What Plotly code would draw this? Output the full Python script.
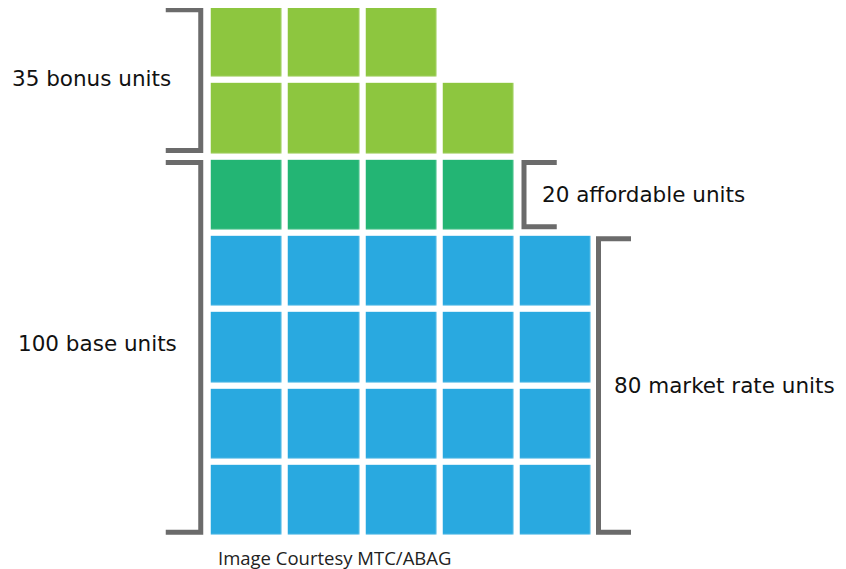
import plotly.graph_objects as go

# ---- data ----
categories = ["bonus", "affordable", "market rate"]
category_units = [35, 20, 80]
base_units = 100
bonus_rows = [3, 4]          # squares per row, top to bottom
affordable_rows = [4]
market_rows = [5, 5, 5, 5]
n_cols = 5
caption = "Image Courtesy MTC/ABAG"

# ---- styles ----
colors = ["#8DC63F", "#23B574", "#29A9E0"]
bracket_color = "#6B6B6B"
PAGE_OFF = 8                    # default body margin of the html page
W, H = 846 - PAGE_OFF, 569 - PAGE_OFF
PXX, PXY = 77.25, 76.34        # pixels per grid unit
COL_EDGE_PX, ROW_EDGE_PX = 207.75 - PAGE_OFF, 3.8 - PAGE_OFF
GAP = 6.4

# build grid
group_rows = [bonus_rows, affordable_rows, market_rows]
z = []
row_group = []
for gi, rows in enumerate(group_rows):
    for cnt in rows:
        z.append([gi if c < cnt else None for c in range(n_cols)])
        row_group.append(gi)
n_rows = len(z)

def gx(px):  # pixel offset -> x units
    return px / PXX

def gy(px):
    return px / PXY

x_min = -0.5 - gx(COL_EDGE_PX)
x_max = x_min + gx(W)
y_top = -0.5 - gy(ROW_EDGE_PX)
y_bot = y_top + gy(H)

fig = go.Figure()
fig.add_trace(go.Heatmap(
    z=z, x=list(range(n_cols)), y=list(range(n_rows)),
    zmin=0, zmax=2,
    colorscale=[[0, colors[0]], [0.25, colors[0]], [0.25, colors[1]],
                [0.75, colors[1]], [0.75, colors[2]], [1, colors[2]]],
    showscale=False, xgap=GAP, ygap=GAP, hoverinfo="skip",
))

def group_span(gi):
    idx = [i for i, g in enumerate(row_group) if g == gi]
    return min(idx) - 0.5, max(idx) + 0.5

def bracket(xline, xarm, ya, yb):
    yt = ya + gy(6)
    yb2 = yb - gy(6)
    path = f"M {xarm} {yt} L {xline} {yt} L {xline} {yb2} L {xarm} {yb2}"
    fig.add_shape(type="path", path=path, xref="x", yref="y",
                  line=dict(color=bracket_color, width=5), layer="above")

font = dict(family="DejaVu Sans, Open Sans, sans-serif", size=21.5, color="#111111")

# bonus bracket (left)
b0, b1 = group_span(0)
bracket(-0.5 - gx(7), -0.5 - gx(42), b0, b1)
fig.add_annotation(x=-0.5 - gx(35), y=(b0 + b1) / 2 - gy(2), xref="x", yref="y",
                   text=f"{category_units[0]} {categories[0]} units",
                   showarrow=False, xanchor="right", yanchor="middle", font=font)

# base bracket (left)
a0, _ = group_span(1)
_, m1 = group_span(2)
bracket(-0.5 - gx(7), -0.5 - gx(42), a0, m1)
fig.add_annotation(x=-0.5 - gx(29), y=(a0 + m1) / 2 - gy(4), xref="x", yref="y",
                   text=f"{base_units} base units",
                   showarrow=False, xanchor="right", yanchor="middle", font=font)

# affordable bracket (right of row)
aff_edge = affordable_rows[0] - 0.5
bracket(aff_edge + gx(7.25), aff_edge + gx(40), a0, group_span(1)[1])
fig.add_annotation(x=aff_edge + gx(23), y=(a0 + group_span(1)[1]) / 2, xref="x", yref="y",
                   text=f"{category_units[1]} {categories[1]} units",
                   showarrow=False, xanchor="left", yanchor="middle", font=font)

# market rate bracket (right)
mk0, mk1 = group_span(2)
mk_edge = max(market_rows) - 0.5
bracket(mk_edge + gx(4.5), mk_edge + gx(37), mk0, mk1)
fig.add_annotation(x=mk_edge + gx(18), y=(mk0 + mk1) / 2, xref="x", yref="y",
                   text=f"{category_units[2]} {categories[2]} units",
                   showarrow=False, xanchor="left", yanchor="middle", font=font)

# caption
fig.add_annotation(x=(216 - PAGE_OFF) / W, y=1 - (557 - PAGE_OFF) / H,
                   xref="paper", yref="paper",
                   text=caption, showarrow=False, xanchor="left", yanchor="middle",
                   font=dict(family="Open Sans, sans-serif", size=18.5, color="#222222"))

fig.update_layout(
    width=W, height=H, margin=dict(l=0, r=0, t=0, b=0),
    paper_bgcolor="white", plot_bgcolor="white", showlegend=False,
    xaxis=dict(range=[x_min, x_max], visible=False, fixedrange=True),
    yaxis=dict(range=[y_bot, y_top], visible=False, fixedrange=True),
)

fig.write_html("out.html")
